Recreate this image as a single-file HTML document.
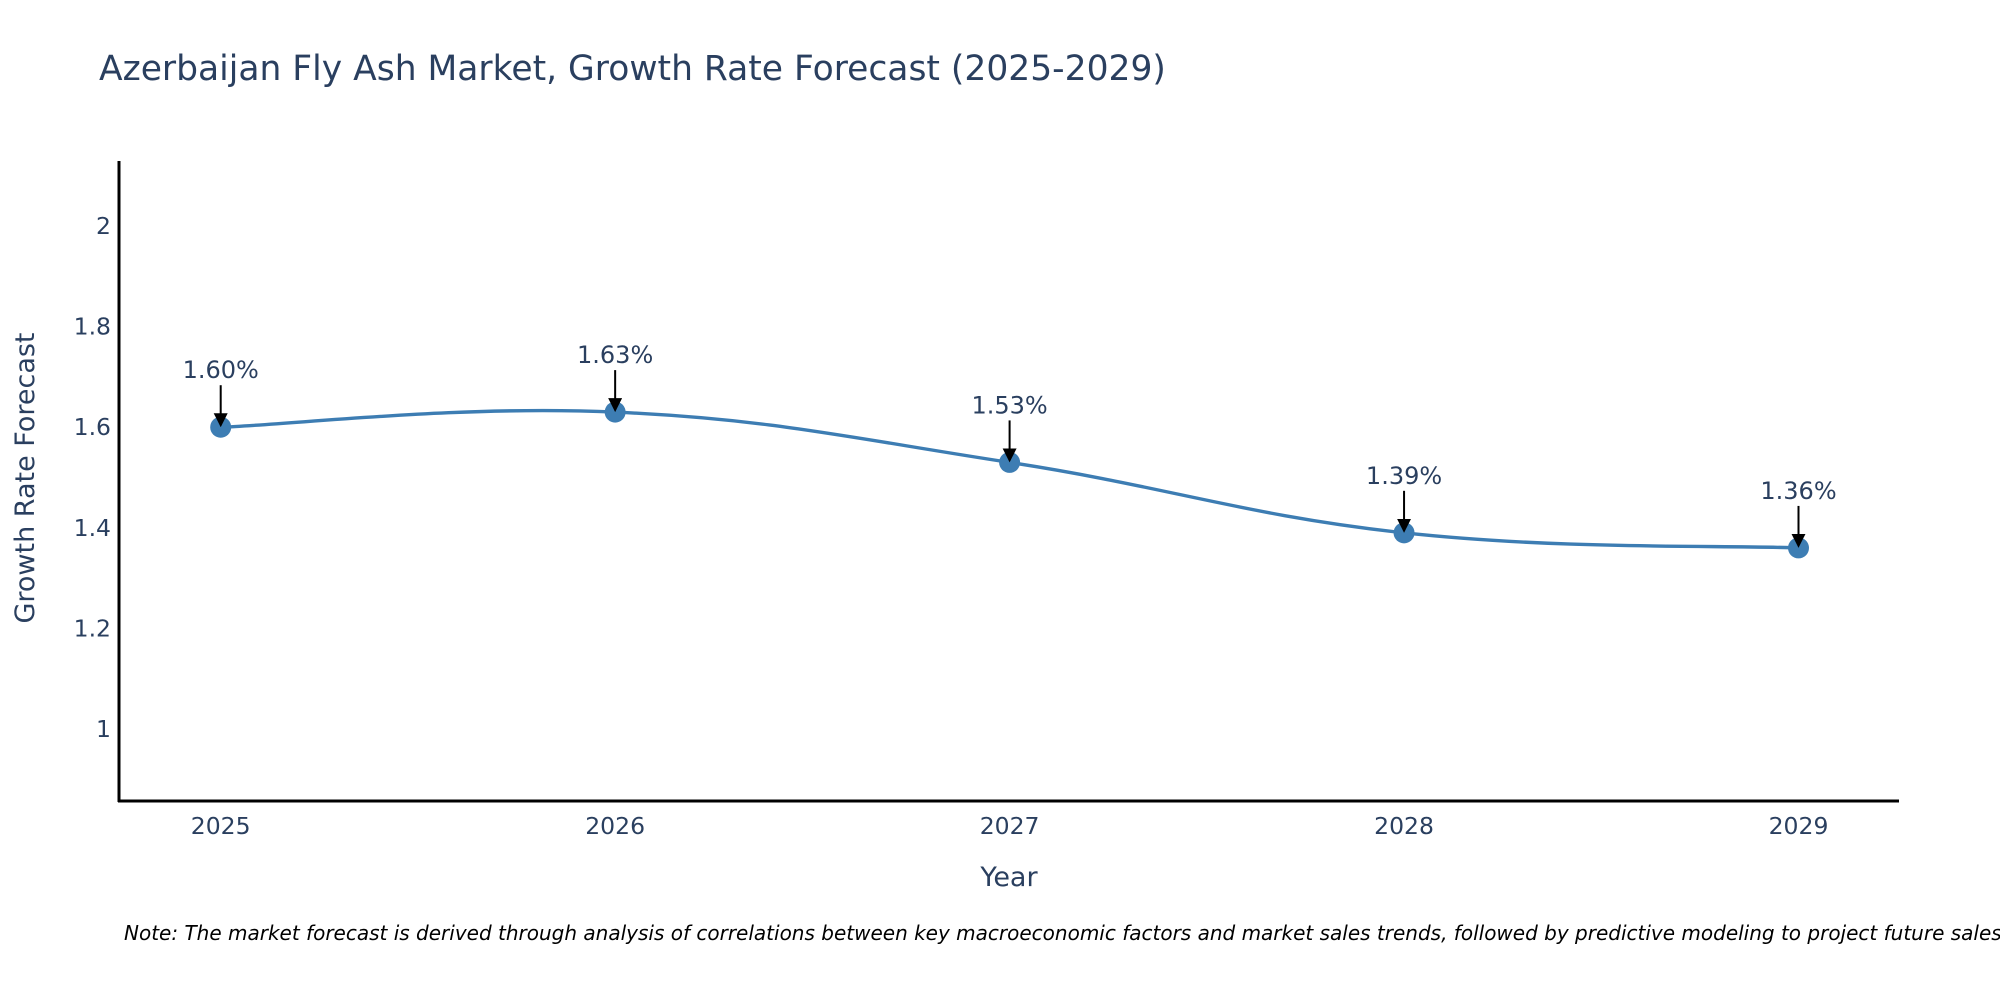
<!DOCTYPE html>
<html><head><meta charset="utf-8"><style>
html,body{margin:0;padding:0;background:#fff;overflow:hidden;}
svg{display:block;font-family:"DejaVu Sans","Liberation Sans",sans-serif;}
</style></head><body>
<svg id="chart" width="2000" height="1000" viewBox="0 0 2000 1000" xmlns="http://www.w3.org/2000/svg">
<defs><marker id="ah" markerWidth="14" markerHeight="14" refX="12" refY="7" orient="auto" markerUnits="userSpaceOnUse" viewBox="0 0 14 14"><path d="M0,0 L14,7 L0,14 z" fill="#000"/></marker></defs>
<text x="99" y="80" font-size="34.5" fill="#2a3f5f">Azerbaijan Fly Ash Market, Growth Rate Forecast (2025-2029)</text>
<g id="yticks"></g><g id="xticks"></g>
<path id="series-line" fill="none" stroke="#3d7db3" stroke-width="3.4"/>
<g id="points"></g><g id="annots"></g>
<line x1="119" y1="161" x2="119" y2="802" stroke="#000" stroke-width="3"/>
<line x1="118" y1="801" x2="1899" y2="801" stroke="#000" stroke-width="3"/>
<text x="1009" y="886" font-size="27" fill="#2a3f5f" text-anchor="middle">Year</text>
<text transform="translate(34,478) rotate(-90)" font-size="27" fill="#2a3f5f" text-anchor="middle">Growth Rate Forecast</text>
<text x="124" y="940" font-size="20" font-style="italic" fill="#000">Note: The market forecast is derived through analysis of correlations between key macroeconomic factors and market sales trends, followed by predictive modeling to project future sales.</text>
</svg>
<script>
const years = [2025, 2026, 2027, 2028, 2029];
const rates = [1.60, 1.63, 1.53, 1.39, 1.36];
const labels = ["1.60%", "1.63%", "1.53%", "1.39%", "1.36%"];
const yTicks = [1, 1.2, 1.4, 1.6, 1.8, 2];
const yTickLabels = ["1", "1.2", "1.4", "1.6", "1.8", "2"];

const NS = "http://www.w3.org/2000/svg";
function xs(v){ return 220.7 + (v - 2025) * 394.45; }
function ys(v){ return 729 - (v - 1) * 503; }
function mk(tag, attrs, parent){ const e = document.createElementNS(NS, tag); for (const k in attrs) e.setAttribute(k, attrs[k]); parent.appendChild(e); return e; }

const yt = document.getElementById('yticks');
yTicks.forEach((t, i) => {
  const e = mk('text', {x: 111, y: ys(t) + 8, 'font-size': 23.5, fill: '#2a3f5f', 'text-anchor': 'end'}, yt);
  
  
  e.textContent = yTickLabels[i];
});
const xt = document.getElementById('xticks');
years.forEach(y => {
  const e = mk('text', {x: xs(y), y: 834, 'font-size': 23.5, fill: '#2a3f5f', 'text-anchor': 'middle'}, xt);
  
  
  e.textContent = String(y);
});

const pts = years.map((y, i) => [xs(y), ys(rates[i])]);
let d = 'M' + pts[0][0] + ',' + pts[0][1];
const k = 0.2;
for (let i = 0; i < pts.length - 1; i++) {
  const p0 = pts[Math.max(0, i - 1)], p1 = pts[i], p2 = pts[i + 1], p3 = pts[Math.min(pts.length - 1, i + 2)];
  const c1 = [p1[0] + (p2[0] - p0[0]) * k, p1[1] + (p2[1] - p0[1]) * k];
  const c2 = [p2[0] - (p3[0] - p1[0]) * k, p2[1] - (p3[1] - p1[1]) * k];
  d += ' C' + c1.join(',') + ' ' + c2.join(',') + ' ' + p2.join(',');
}
document.getElementById('series-line').setAttribute('d', d);

const pg = document.getElementById('points');
const ag = document.getElementById('annots');
pts.forEach((p, i) => {
  const c = mk('circle', {cx: p[0], cy: p[1], r: 10.5, fill: '#3d7db3'}, pg);
  
  
  const l = mk('line', {x1: p[0], y1: p[1] - 42, x2: p[0], y2: p[1] - 2, stroke: '#000', 'stroke-width': 2, 'marker-end': 'url(#ah)'}, ag);
  
  
  const t = mk('text', {x: p[0], y: p[1] - 49, 'font-size': 24, fill: '#2a3f5f', 'text-anchor': 'middle'}, ag);
  
  
  t.textContent = labels[i];
});
</script>
</body></html>
